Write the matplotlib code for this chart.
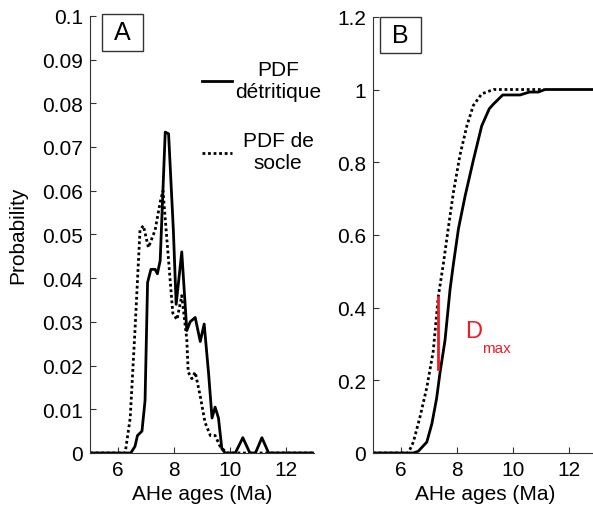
import numpy as np
import matplotlib
matplotlib.use("Agg")
import matplotlib.pyplot as plt
from matplotlib.patches import Rectangle
from matplotlib.ticker import FormatStrFormatter

plt.rcParams['font.family'] = ['Liberation Sans', 'DejaVu Sans']

# PDF détritique (solid)
det_age = [5.0, 6.45, 6.6, 6.69, 6.85, 6.96, 7.05, 7.17, 7.32, 7.4, 7.5, 7.68, 7.8,
           7.97, 8.07, 8.27, 8.45, 8.57, 8.75, 8.93, 9.07, 9.23, 9.35, 9.46, 9.58,
           9.7, 9.82, 10.18, 10.45, 10.7, 10.9, 11.13, 11.37, 13.0]
det_pdf = [0, 0, 0.0015, 0.004, 0.005, 0.012, 0.039, 0.042, 0.042, 0.041, 0.044, 0.0734, 0.073,
           0.051, 0.034, 0.046, 0.028, 0.030, 0.031, 0.0255, 0.0295, 0.018, 0.008, 0.0105, 0.008,
           0.001, 0, 0, 0.0035, 0, 0, 0.0035, 0, 0]

# PDF de socle (dotted)
soc_age = [5.0, 6.25, 6.43, 6.6, 6.78, 6.9, 7.08, 7.32, 7.5, 7.6, 7.95, 8.1, 8.27,
           8.45, 8.5, 8.63, 8.75, 8.93, 9.1, 9.29, 9.46, 9.64, 9.88, 13.0]
soc_pdf = [0, 0, 0.008, 0.028, 0.051, 0.052, 0.047, 0.051, 0.0574, 0.060, 0.032, 0.0305, 0.036,
           0.026, 0.0185, 0.017, 0.0185, 0.013, 0.007, 0.004, 0.004, 0.0015, 0, 0]

# CDFs
det_cdf_age = [5.0, 6.44, 6.62, 6.92, 7.1, 7.27, 7.39, 7.57, 7.75, 7.87, 8.05, 8.29, 8.58,
               8.88, 9.15, 9.3, 9.63, 10.25, 10.58, 10.9, 11.14, 13.0]
det_cdf = [0, 0, 0.005, 0.03, 0.08, 0.15, 0.22, 0.31, 0.45, 0.52, 0.617, 0.708, 0.805,
           0.90, 0.947, 0.96, 0.985, 0.985, 0.993, 0.993, 1.0, 1.0]
soc_cdf_age = [5.0, 6.26, 6.44, 6.68, 6.92, 7.15, 7.33, 7.51, 7.69, 7.87, 8.1, 8.35,
               8.58, 8.88, 9.3, 11.1]
soc_cdf = [0, 0, 0.03, 0.10, 0.18, 0.28, 0.43, 0.52, 0.62, 0.717, 0.818, 0.90,
           0.956, 0.988, 1.0, 1.0]

dmax_x = 7.32
dmax_y = [0.23, 0.43]

fs = 15
red = '#ee1c25'
fig = plt.figure(figsize=(5.93, 5.06), dpi=100)
axA = fig.add_axes([0.152, 0.1028, 0.378, 0.864])
axB = fig.add_axes([0.629, 0.1028, 0.378, 0.862])

for ax in (axA, axB):
    ax.spines['top'].set_visible(False)
    ax.spines['right'].set_visible(False)
    ax.spines['left'].set_color('#333333')
    ax.spines['bottom'].set_color('#333333')
    ax.tick_params(direction='in', length=4, labelsize=fs, color='#333333', pad=5)
    ax.set_xlim(5, 13)
    ax.set_xticks([6, 8, 10, 12])
    ax.set_xlabel('AHe ages (Ma)', fontsize=fs, labelpad=4)
    ax.yaxis.set_major_formatter(FormatStrFormatter('%g'))

# panel A
axA.plot(det_age, det_pdf, color='black', lw=2)
axA.plot(soc_age, soc_pdf, color='black', lw=2, ls=(0, (1, 1)))
axA.set_ylim(0, 0.1)
axA.set_yticks(np.arange(0, 0.101, 0.01))
axA.set_ylabel('Probability', fontsize=fs, labelpad=11)

axA.plot([0.499, 0.633], [0.852, 0.852], transform=axA.transAxes, color='black', lw=2)
axA.text(0.839, 0.852, 'PDF\ndétritique', transform=axA.transAxes, ha='center',
         va='center', multialignment='center', fontsize=fs, linespacing=1.2)
axA.plot([0.499, 0.633], [0.686, 0.686], transform=axA.transAxes, color='black', lw=2,
         ls=(0, (1, 1)))
axA.text(0.839, 0.69, 'PDF de\nsocle', transform=axA.transAxes, ha='center',
         va='center', multialignment='center', fontsize=fs, linespacing=1.2)

axA.add_patch(Rectangle((0.054, 0.92), 0.183, 0.085, transform=axA.transAxes,
                        fill=False, ec='#333333', lw=1, clip_on=False))
axA.text(0.1455, 0.9625, 'A', transform=axA.transAxes, ha='center', va='center', fontsize=18)

# panel B
axB.plot(det_cdf_age, det_cdf, color='black', lw=2)
axB.plot(soc_cdf_age, soc_cdf, color='black', lw=2, ls=(0, (1, 1)))
axB.set_ylim(0, 1.2)
axB.set_yticks(np.arange(0, 1.21, 0.2))
axB.plot([dmax_x, dmax_x], dmax_y, color=red, lw=2)
axB.text(8.29, 0.335, 'D', color=red, fontsize=17, ha='left', va='center')
axB.text(8.89, 0.29, 'max', color=red, fontsize=11, ha='left', va='center')

axB.add_patch(Rectangle((0.031, 0.917), 0.183, 0.083, transform=axB.transAxes,
                        fill=False, ec='#333333', lw=1, clip_on=False))
axB.text(0.1225, 0.9585, 'B', transform=axB.transAxes, ha='center', va='center', fontsize=18)

fig.savefig('out.png', dpi=100)
